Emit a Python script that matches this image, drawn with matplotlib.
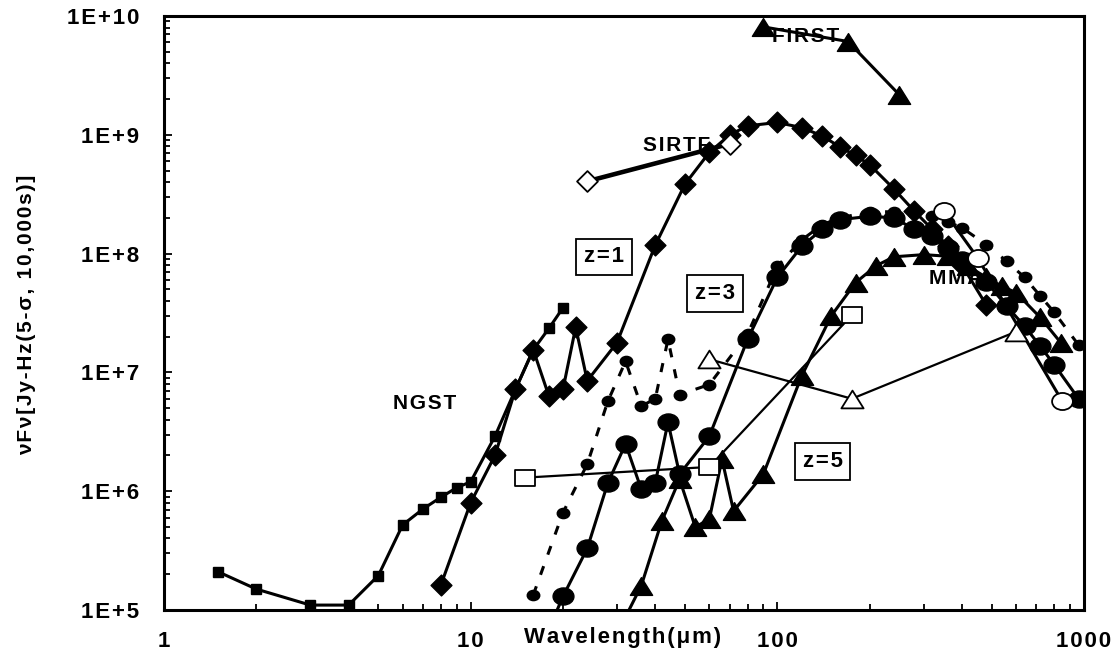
import matplotlib
matplotlib.use("Agg")
import matplotlib.pyplot as plt
from matplotlib.path import Path
from matplotlib.ticker import FixedLocator, NullFormatter
import numpy as np

plt.rcParams['font.family'] = ['Liberation Sans', 'DejaVu Sans']
plt.rcParams['font.weight'] = 'bold'

# NGST sensitivity
ngst_wl = [1.5, 2, 3, 4, 5, 6, 7, 8, 9, 10, 12, 14, 16, 18, 20]
ngst_f = [2.1e5, 1.5e5, 1.1e5, 1.1e5, 1.95e5, 5.2e5, 7.1e5, 8.9e5, 1.07e6,
          1.2e6, 2.9e6, 7.2e6, 1.55e7, 2.35e7, 3.5e7]

# galaxy SED at z=1
z1_wl = [8, 10, 12, 14, 16, 18, 20, 22, 24, 30, 40, 50, 60, 70, 80, 100,
         120, 140, 160, 180, 200, 240, 280, 320, 360, 400, 480]
z1_f = [1.63e5, 8e5, 2.0e6, 7.2e6, 1.55e7, 6.3e6, 7.2e6, 2.4e7, 8.5e6,
        1.78e7, 1.18e8, 3.85e8, 7.1e8, 1.0e9, 1.19e9, 1.27e9, 1.15e9,
        9.8e8, 7.9e8, 6.7e8, 5.6e8, 3.5e8, 2.27e8, 1.6e8, 1.15e8, 8e7, 3.7e7]

# galaxy SED at z=3 (solid)
z3_wl = [16, 20, 24, 28, 32, 36, 40, 44, 48, 60, 80, 100, 120, 140, 160,
         200, 240, 280, 320, 360, 400, 480, 560, 640, 720, 800, 960]
z3_f = [3.4e4, 1.3e5, 3.3e5, 1.17e6, 2.5e6, 1.04e6, 1.18e6, 3.8e6, 1.39e6,
        2.9e6, 1.9e7, 6.3e7, 1.15e8, 1.6e8, 1.93e8, 2.06e8, 2.0e8, 1.6e8,
        1.4e8, 1.12e8, 8.9e7, 5.8e7, 3.6e7, 2.45e7, 1.66e7, 1.16e7, 6.0e6]

# galaxy SED at z=3 (dashed)
z3b_wl = [16, 20, 24, 28, 32, 36, 40, 44, 48, 60, 80, 100, 120, 140, 160,
          200, 240, 280, 320, 360, 400, 480, 560, 640, 720, 800, 960]
z3b_f = [1.34e5, 6.6e5, 1.69e6, 5.7e6, 1.24e7, 5.2e6, 6.0e6, 1.9e7, 6.5e6,
         7.9e6, 2.1e7, 7.8e7, 1.3e8, 1.75e8, 2.0e8, 2.25e8, 2.25e8, 2.2e8,
         2.06e8, 1.85e8, 1.65e8, 1.19e8, 8.6e7, 6.3e7, 4.4e7, 3.2e7, 1.7e7]

# galaxy SED at z=5
z5_wl = [30, 36, 42, 48, 54, 60, 66, 72, 90, 120, 150, 180, 210, 240, 300,
         360, 420, 480, 540, 600, 720, 840]
z5_f = [6.3e4, 1.6e5, 5.6e5, 1.26e6, 5.0e5, 5.8e5, 1.86e6, 6.8e5, 1.39e6,
        9.3e6, 3.0e7, 5.7e7, 7.9e7, 9.4e7, 9.8e7, 9.5e7, 7.8e7, 6.3e7,
        5.3e7, 4.7e7, 2.9e7, 1.78e7]

# other facilities
first_wl = [90, 170, 250]
first_f = [8.1e9, 6.1e9, 2.17e9]
sirtf_wl = [24, 70]
sirtf_f = [4.06e8, 8.4e8]
mma_wl = [350, 450, 850]
mma_f = [2.27e8, 9.2e7, 5.7e6]
otri_wl = [60, 175, 600]
otri_f = [1.29e7, 6.0e6, 2.2e7]
osq_wl = [15, 60, 175]
osq_f = [1.3e6, 1.6e6, 3.03e7]

ytick_vals = [1e5, 1e6, 1e7, 1e8, 1e9, 1e10]
ytick_labels = ['1E+5', '1E+6', '1E+7', '1E+8', '1E+9', '1E+10']
xtick_vals = [1, 10, 100, 1000]
xtick_labels = ['1', '10', '100', '1000']


def sp(s):
    return '\u200a'.join(s)


def closed(verts):
    codes = [Path.MOVETO] + [Path.LINETO] * (len(verts) - 2) + [Path.CLOSEPOLY]
    return Path(verts, codes)


c = Path.unit_circle()
ell = Path(c.vertices * [1, 0.82], c.codes)
tri = closed([(0, 0.8), (-1, -0.8), (1, -0.8), (0, 0.8)])
sq = closed([(-1, -0.8), (1, -0.8), (1, 0.8), (-1, 0.8), (-1, -0.8)])
dia = closed([(0, 1), (1, 0), (0, -1), (-1, 0), (0, 1)])

fig = plt.figure(figsize=(11.15, 6.65), dpi=100)
ax = fig.add_axes([164/1115, 1-610/665, (1084-164)/1115, (610-16)/665])
ax.set_xscale('log')
ax.set_yscale('log')

lw = 2.2
ax.plot(ngst_wl, ngst_f, '-', color='k', lw=lw, marker='s', ms=7.5, mfc='k', mec='k')
ax.plot(z1_wl, z1_f, '-', color='k', lw=lw, marker=dia, ms=15, mfc='k', mec='k', mew=1)
ax.plot(z3b_wl, z3b_f, color='k', lw=lw, ls=(0, (3, 4)), marker=ell, ms=9, mfc='k', mec='k')
ax.plot(z3_wl, z3_f, '-', color='k', lw=lw, marker=ell, ms=15, mfc='k', mec='k')
ax.plot(z5_wl, z5_f, '-', color='k', lw=lw, marker=tri, ms=16, mfc='k', mec='k')
ax.plot(first_wl, first_f, '-', color='k', lw=lw, marker=tri, ms=16, mfc='k', mec='k')
ax.plot(sirtf_wl, sirtf_f, '-', color='k', lw=3.3, marker=dia, ms=15, mfc='white', mec='k', mew=1.3)
ax.plot(mma_wl, mma_f, '-', color='k', lw=lw, marker=ell, ms=15, mfc='white', mec='k', mew=1.3)
ax.plot(otri_wl, otri_f, '-', color='k', lw=1.6, marker=tri, ms=16, mfc='white', mec='k', mew=1.3)
ax.plot(osq_wl, osq_f, '-', color='k', lw=1.6, marker=sq, ms=14.5, mfc='white', mec='k', mew=1.3)

ax.set_xlim(1, 1000)
ax.set_ylim(1e5, 1e10)

for s in ax.spines.values():
    s.set_linewidth(2.2)

ax.xaxis.set_major_locator(FixedLocator(xtick_vals))
ax.yaxis.set_major_locator(FixedLocator(ytick_vals))
ax.set_xticklabels([sp(t) for t in xtick_labels])
ax.set_yticklabels([sp(t) for t in ytick_labels])
ax.xaxis.set_minor_formatter(NullFormatter())
ax.yaxis.set_minor_formatter(NullFormatter())
ax.tick_params(which='both', direction='in', top=False, right=False, width=1.3)
ax.tick_params(which='major', length=6)
ax.tick_params(which='minor', length=4)
ax.tick_params(axis='y', which='major', labelsize=16, pad=18)
ax.tick_params(axis='x', which='major', labelsize=16, pad=15)

tkw = dict(fontsize=15, fontweight='bold', va='center', zorder=1)
ax.text(7.06, 5.5e6, sp('NGST'), ha='center', **tkw)
ax.text(36.6, 8.1e8, sp('SIRTF'), ha='left', **tkw)
ax.text(95.9, 6.7e9, sp('FIRST'), ha='left', **tkw)
ax.text(312, 6.2e7, sp('MMA'), ha='left', **tkw)

bkw = dict(fontsize=16, fontweight='bold', ha='center', va='center', zorder=5,
           bbox=dict(boxstyle='square,pad=0.35', fc='white', ec='k', lw=1.3))
ax.text(27.2, 9.4e7, sp('z=1'), **bkw)
ax.text(62.7, 4.6e7, sp('z=3'), **bkw)
ax.text(140.6, 1.77e6, sp('z=5'), **bkw)

fig.text(623/1115, 1-638/665, sp('Wavelength(\u03bcm)'), ha='center', va='center',
         fontsize=16, fontweight='bold')
fig.text(27/1115, 1-315/665, sp('\u03bdF\u03bd[Jy-Hz(5-\u03c3, 10,000s)]'), ha='center',
         va='center', rotation=90, fontsize=15, fontweight='bold')

fig.savefig('out.png', dpi=100)
